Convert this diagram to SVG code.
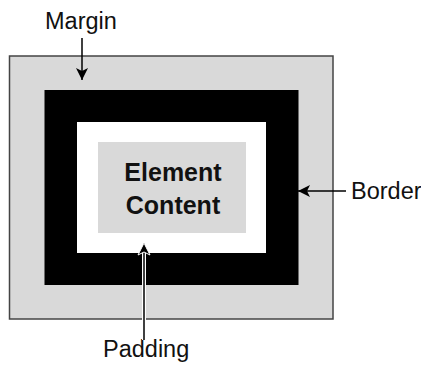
<svg xmlns="http://www.w3.org/2000/svg" width="421" height="367" viewBox="0 0 421 367">
<style>
.lbl{font-family:"Liberation Sans",Arial,sans-serif;font-size:23.5px;fill:#111}
.bold{font-family:"Liberation Sans",Arial,sans-serif;font-size:25px;font-weight:bold;fill:#111;text-anchor:middle}
.ln{stroke:#000;stroke-width:1.5;fill:none}
</style>
<defs>
<marker id="ah" markerWidth="14" markerHeight="14" refX="12" refY="6" orient="auto" markerUnits="userSpaceOnUse">
<path d="M0,0 L12,6 L0,12 L3,6 Z" fill="#000"/>
</marker>
<marker id="ahw" markerWidth="16" markerHeight="16" refX="13" refY="7" orient="auto" markerUnits="userSpaceOnUse">
<path d="M1,1 L13,7 L1,13 L4,7 Z" fill="#000" stroke="#fff" stroke-width="1"/>
</marker>
</defs>
<g id="margin-box"><rect x="9.5" y="56" width="323.5" height="263" fill="#d9d9d9" stroke="#444" stroke-width="1.5"/></g>
<g id="border-box"><rect x="44.5" y="90" width="254" height="195" fill="#000"/></g>
<g id="padding-box"><rect x="77" y="122" width="189" height="131" fill="#fff"/></g>
<g id="content-box"><rect x="98" y="142" width="148" height="91" fill="#d9d9d9"/>
<text class="bold" x="173" y="181">Element</text>
<text class="bold" x="173" y="214">Content</text></g>
<g id="label-margin"><text class="lbl" x="45" y="29">Margin</text></g>
<g id="label-border"><text class="lbl" x="351" y="199">Border</text></g>
<g id="label-padding"><text class="lbl" x="103" y="357">Padding</text></g>
<g id="connectors">
<line class="ln" x1="82" y1="38" x2="82" y2="80" marker-end="url(#ah)"/>
<line class="ln" x1="346" y1="191" x2="298" y2="191" marker-end="url(#ah)"/>
<line x1="144" y1="340" x2="144" y2="250" stroke="#fff" stroke-width="4"/>
<line class="ln" x1="144" y1="340" x2="144" y2="243" marker-end="url(#ahw)"/>
</g>
</svg>
